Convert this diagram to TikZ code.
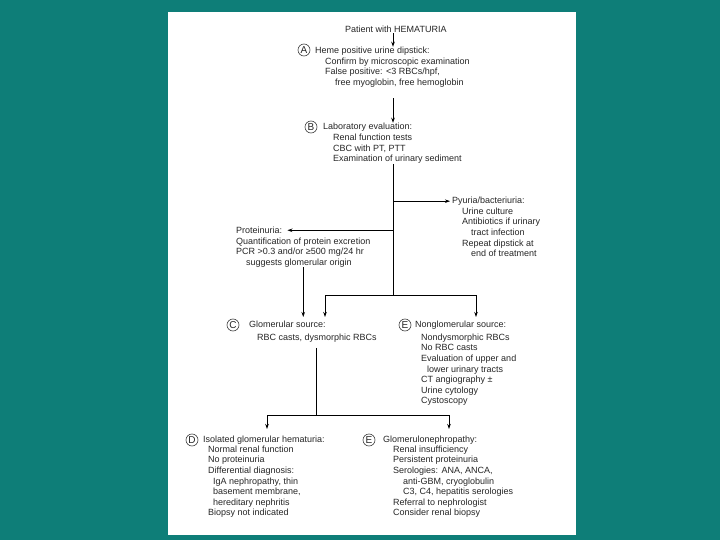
\documentclass[tikz,border=0pt]{standalone}
\usepackage{fontspec}
\setmainfont{Liberation Sans}
\usetikzlibrary{arrows.meta}
\definecolor{slideteal}{RGB}{14,126,120}
\begin{document}
\begin{tikzpicture}[x=1pt,y=-1pt,
  txt/.style={font=\fontsize{9}{10.6}\selectfont,text=black!85,inner sep=0pt},
  head/.style={txt,anchor=base west},
  body/.style={txt,anchor=north west,align=left},
  letter/.style={circle,draw=black!75,line width=0.6pt,inner sep=0pt,minimum size=12pt,
    font=\fontsize{10}{10}\selectfont,text=black!85},
  arr/.style={-{Stealth[length=5pt,width=3.5pt]},line width=1pt}]
  \useasboundingbox (0,0) rectangle (720,540);
  \fill[slideteal] (0,0) rectangle (720,540);
  \fill[white] (168,12) rectangle (576,535);
  % blocks
  \node[head] (patient) at (345,33) {Patient with HEMATURIA};
  \node[letter] (labA) at (304,50) {A};
  \node[head] (heme) at (315,53.5) {Heme positive urine dipstick:};
  \node[body] (hemebody) at (325,57.5) {Confirm by microscopic examination\\
    False positive: <3 RBCs/hpf,\\\hspace*{10pt}free myoglobin, free hemoglobin};
  \node[letter] (labB) at (311,127) {B};
  \node[head] (lab) at (323,129.5) {Laboratory evaluation:};
  \node[body] (labbody) at (333,134) {Renal function tests\\CBC with PT, PTT\\
    Examination of urinary sediment};
  \node[head] (pyuria) at (452,203.5) {Pyuria/bacteriuria:};
  \node[body] (pyuriabody) at (462,207.5) {Urine culture\\Antibiotics if urinary\\
    \hspace*{9pt}tract infection\\Repeat dipstick at\\\hspace*{9pt}end of treatment};
  \node[head] (protein) at (236,233.5) {Proteinuria:};
  \node[body] (proteinbody) at (236,237.5) {Quantification of protein excretion\\
    PCR >0.3 and/or ≥500 mg/24 hr\\\hspace*{10pt}suggests glomerular origin};
  \node[letter] (labC) at (233,325) {C};
  \node[head] (glom) at (249,327.5) {Glomerular source:};
  \node[body] (glombody) at (257,334) {RBC casts, dysmorphic RBCs};
  \node[letter] (labE1) at (405,325) {E};
  \node[head] (nonglom) at (415,327.5) {Nonglomerular source:};
  \node[body] (nonglombody) at (421,333.5) {Nondysmorphic RBCs\\No RBC casts\\
    Evaluation of upper and\\\hspace*{6pt}lower urinary tracts\\CT angiography ±\\
    Urine cytology\\Cystoscopy};
  \node[letter] (labD) at (192,440) {D};
  \node[head] (isolated) at (203,442.5) {Isolated glomerular hematuria:};
  \node[body] (isolatedbody) at (208,445.5) {Normal renal function\\No proteinuria\\
    Differential diagnosis:\\\hspace*{5pt}IgA nephropathy, thin\\
    \hspace*{5pt}basement membrane,\\\hspace*{5pt}hereditary nephritis\\
    Biopsy not indicated};
  \node[letter] (labE2) at (369,440) {E};
  \node[head] (glomneph) at (383,442.5) {Glomerulonephropathy:};
  \node[body] (glomnephbody) at (393,445.5) {Renal insufficiency\\Persistent proteinuria\\
    Serologies: ANA, ANCA,\\\hspace*{10pt}anti-GBM, cryoglobulin\\
    \hspace*{10pt}C3, C4, hepatitis serologies\\Referral to nephrologist\\
    Consider renal biopsy};
  % connectors
  \coordinate (trunk) at (393,0);
  \coordinate (split) at (393,295);
  \coordinate (gdrop) at (325,317);
  \coordinate (ndrop) at (476,317);
  \coordinate (split2) at (316,415);
  \coordinate (ddrop) at (267,429);
  \coordinate (edrop) at (449,429);
  \draw[arr] (patient.south -| trunk) -- (heme.north -| trunk);
  \draw[arr] (hemebody.south -| trunk) ++(0,11) -- (lab.north -| trunk);
  \draw[line width=1pt] (labbody.south -| trunk) -- (split);
  \draw[arr,shorten >=2pt] (pyuria.west -| trunk) -- (pyuria.west);
  \draw[arr,shorten >=5pt] (protein.east -| trunk) -- (protein.east);
  \draw[arr] (proteinbody.south) -- (proteinbody.south |- gdrop);
  \draw[arr] (split) -| (gdrop);
  \draw[arr] (split) -| (ndrop);
  \draw[line width=1pt] (glombody.south -| split2) ++(0,5) -- (split2);
  \draw[arr] (split2) -| (ddrop);
  \draw[arr] (split2) -| (edrop);
\end{tikzpicture}
\end{document}
